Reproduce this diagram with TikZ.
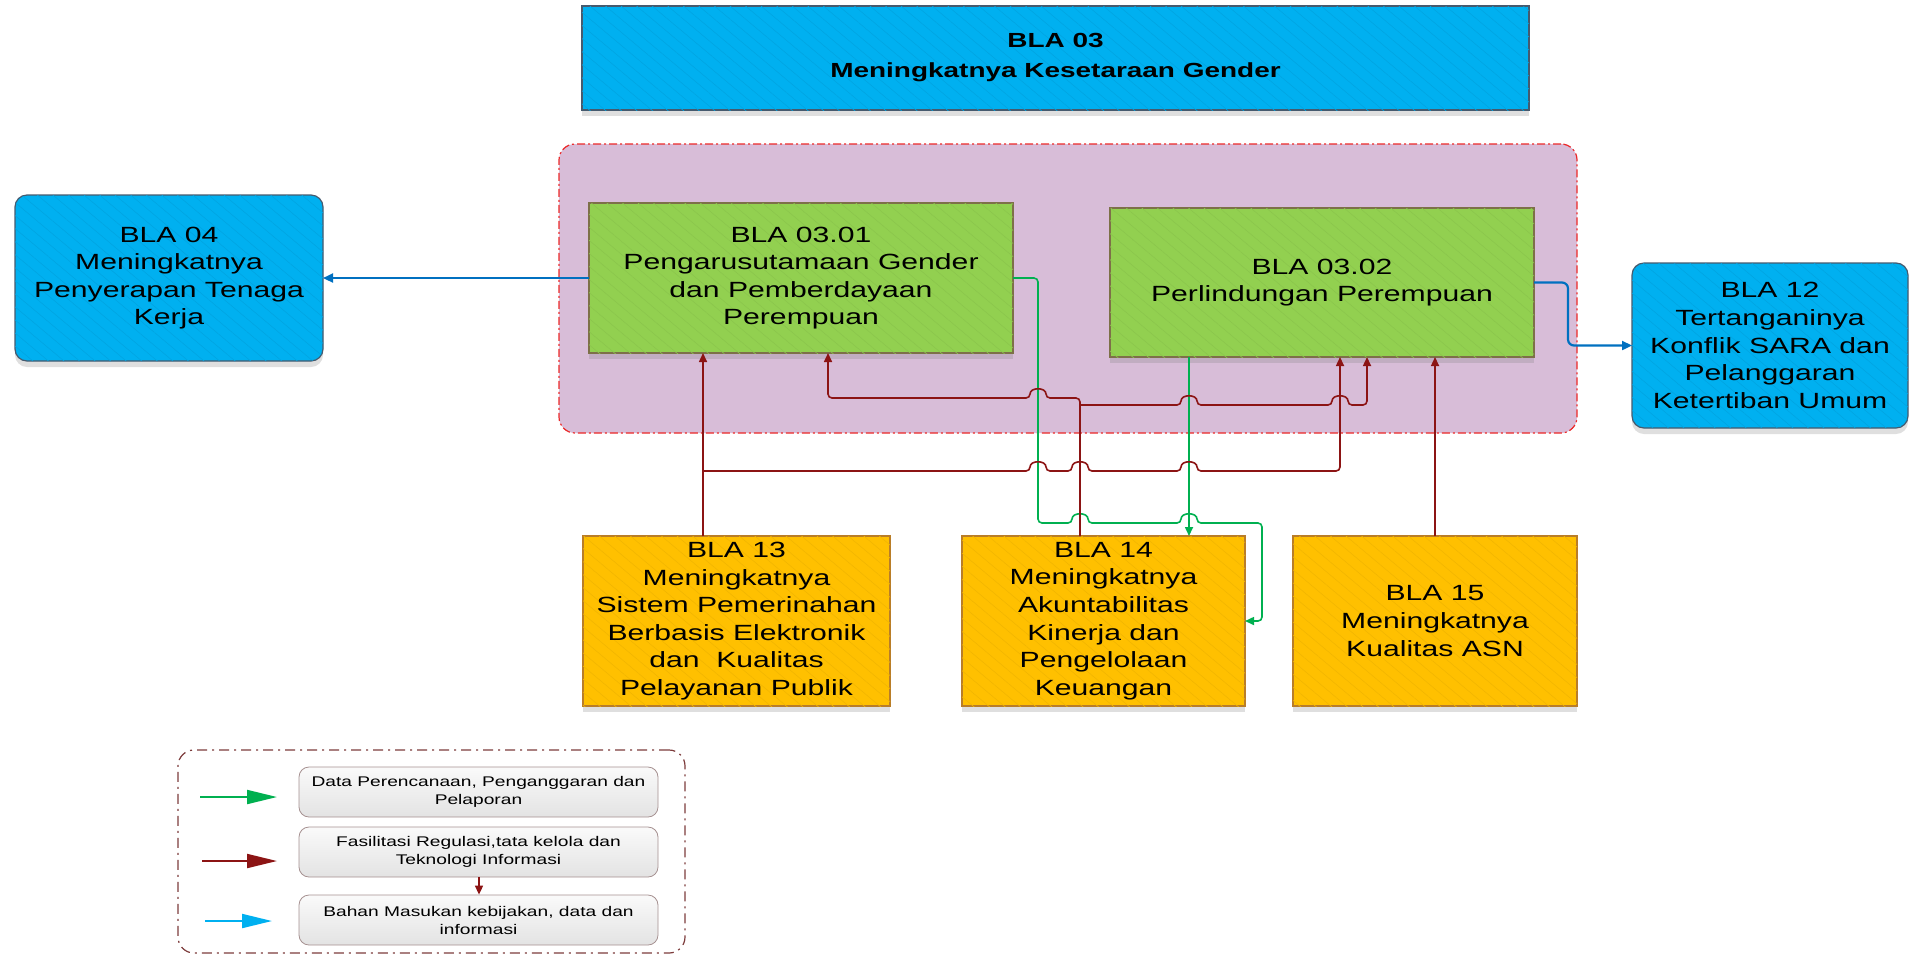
\documentclass[tikz,border=0pt]{standalone}
\usepackage{fontspec}
\setmainfont{Liberation Sans}[FakeStretch=1.37]
\usetikzlibrary{arrows.meta,shadows,patterns.meta}

\definecolor{blacyan}{RGB}{0,176,240}
\definecolor{cyanedge}{RGB}{70,90,110}
\definecolor{blagreen}{RGB}{146,208,80}
\definecolor{greenedge}{RGB}{125,112,72}
\definecolor{blaorange}{RGB}{255,192,0}
\definecolor{orangeedge}{RGB}{185,125,40}
\definecolor{grpfill}{RGB}{216,189,216}
\definecolor{grpedge}{RGB}{235,40,40}
\definecolor{legedge}{RGB}{125,60,60}
\definecolor{lnblue}{RGB}{0,112,192}
\definecolor{lngreen}{RGB}{0,176,80}
\definecolor{lnred}{RGB}{140,20,20}

\begin{document}
\begin{tikzpicture}[x=0.5pt,y=-0.5pt,
    txt/.style={font=\fontsize{11}{13.8}\selectfont,align=center,inner sep=0pt,outer sep=0pt},
    shade/.style={drop shadow={shadow xshift=0pt,shadow yshift=-3pt,opacity=0.25}},
    hatch/.style={postaction={pattern={Lines[angle=-40,distance=5pt,line width=0.3pt]},pattern color=#1}},
    cyanbox/.style={txt,fill=blacyan,draw=cyanedge,line width=0.6pt,shade,hatch=blacyan!94!black},
    greenbox/.style={txt,fill=blagreen,draw=greenedge,line width=0.6pt,shade,hatch=blagreen!95!black},
    orangebox/.style={txt,fill=blaorange,draw=orangeedge,line width=0.6pt,shade,hatch=blaorange!95!black},
    groupbox/.style={fill=grpfill,draw=grpedge,line width=0.6pt,rounded corners=8pt,
        dash pattern=on 4pt off 1.5pt on 1pt off 1.5pt},
    legframe/.style={draw=legedge,line width=0.6pt,rounded corners=8pt,
        dash pattern=on 5pt off 2.5pt on 1pt off 2.5pt},
    legitem/.style={font=\fontsize{7}{9}\selectfont,align=center,inner sep=0pt,rounded corners=5pt,
        draw=legedge!45!gray!70,top color=gray!4,bottom color=gray!22,
        minimum width=179.5pt,minimum height=25pt},
    bluearr/.style={draw=lnblue,line width=1.1pt,-{Triangle[length=5pt,width=4.5pt]}},
    greenarr/.style={draw=lngreen,line width=0.8pt,rounded corners=2pt,-{Triangle[length=4.5pt,width=4pt]}},
    redarr/.style={draw=lnred,line width=0.8pt,rounded corners=2pt,-{Triangle[length=4.5pt,width=4pt]}},
    legarr/.style={draw=#1,line width=1pt,-{Triangle[length=15pt,width=7pt]}},
    hop/.style 2 args={insert path={-- (#1-8,#2) .. controls (#1-8,#2-11) and (#1+8,#2-11) .. (#1+8,#2)}},
    hopl/.style 2 args={insert path={-- (#1+8,#2) .. controls (#1+8,#2-11) and (#1-8,#2-11) .. (#1-8,#2)}}]
\useasboundingbox (0,0) rectangle (1909,960);

% target and groups
\node[cyanbox,rounded corners=0pt,minimum width=473.5pt,minimum height=52pt,
    font=\fontsize{10.2}{15}\selectfont\bfseries] (top) at (1055.5,58) {BLA 03\\Meningkatnya Kesetaraan Gender};
\node[groupbox,minimum width=509pt,minimum height=144.5pt] (grp) at (1068,288.5) {};
\node[greenbox,minimum width=212pt,minimum height=75pt] (g1) at (801,278)
    {BLA 03.01\\Pengarusutamaan Gender\\dan Pemberdayaan\\Perempuan};
\node[greenbox,minimum width=212pt,minimum height=74.5pt] (g2) at (1322,282.5)
    {BLA 03.02\\Perlindungan Perempuan};
\node[cyanbox,rounded corners=6pt,minimum width=154pt,minimum height=83pt] (b04) at (169,278)
    {BLA 04\\Meningkatnya\\Penyerapan Tenaga\\Kerja};
\node[cyanbox,rounded corners=6pt,minimum width=138pt,minimum height=82.5pt] (b12) at (1770,345.5)
    {BLA 12\\Tertanganinya\\Konflik SARA dan\\Pelanggaran\\Ketertiban Umum};
\node[orangebox,minimum width=153.5pt,minimum height=85pt] (b13) at (736.5,621)
    {BLA 13\\Meningkatnya\\Sistem Pemerinahan\\Berbasis Elektronik\\dan\ \ Kualitas\\Pelayanan Publik};
\node[orangebox,minimum width=141.5pt,minimum height=85pt] (b14) at (1103.5,621)
    {BLA 14\\Meningkatnya\\Akuntabilitas\\Kinerja dan\\Pengelolaan\\Keuangan};
\node[orangebox,minimum width=142pt,minimum height=85pt] (b15) at (1435,621)
    {BLA 15\\Meningkatnya\\Kualitas ASN};

% x positions of the vertical runs
\coordinate (x703) at (703,0);
\coordinate (x828) at (828,0);
\coordinate (x1080) at (1080,0);
\coordinate (x1189) at (1189,0);
\coordinate (x1340) at (1340,0);
\coordinate (x1367) at (1367,0);
\coordinate (j13) at (703,471);
\coordinate (j14) at (1080,405);

% blue
\draw[bluearr] (g1.west) -- (b04.east);
\draw[bluearr,rounded corners=3pt] (g2.east) -- (1568,282.5) |- (b12.west);

% green
\draw[greenarr] (g1.east) -- (1038,278) -- (1038,523) [hop={1080}{523}] [hop={1189}{523}] -- (1262,523) |- (b14.east);
\draw[greenarr] (g2.south -| x1189) -- (b14.north -| x1189);

% red
\draw[redarr] (b13.north -| x703) -- (g1.south -| x703);
\draw[redarr] (j13) [hop={1038}{471}] [hop={1080}{471}] [hop={1189}{471}] -| (g2.south -| x1340);
\draw[redarr] (b14.north -| x1080) -- (1080,398) [hopl={1038}{398}] -| (g1.south -| x828);
\draw[redarr] (j14) [hop={1189}{405}] [hop={1340}{405}] -| (g2.south -| x1367);
\draw[redarr] (b15.north) -- (b15.north |- g2.south);

% legend
\node[legframe,minimum width=253.5pt,minimum height=101.5pt] (leg) at (431.5,851.5) {};
\node[legitem] (lb1) at (478.5,792) {Data Perencanaan, Penganggaran dan\\Pelaporan};
\node[legitem] (lb2) at (478.5,852) {Fasilitasi Regulasi,tata kelola dan\\Teknologi Informasi};
\node[legitem] (lb3) at (478.5,920) {Bahan Masukan kebijakan, data dan\\informasi};
\coordinate (x479) at (479,0);
\coordinate (lga) at (200,797); \coordinate (lgb) at (277,797);
\coordinate (lra) at (202,861); \coordinate (lrb) at (277,861);
\coordinate (lca) at (205,921); \coordinate (lcb) at (272,921);
\draw[legarr=lngreen] (lga) -- (lgb);
\draw[legarr=lnred] (lra) -- (lrb);
\draw[legarr=blacyan] (lca) -- (lcb);
\draw[redarr] (lb2.south -| x479) -- (lb3.north -| x479);
\end{tikzpicture}
\end{document}
